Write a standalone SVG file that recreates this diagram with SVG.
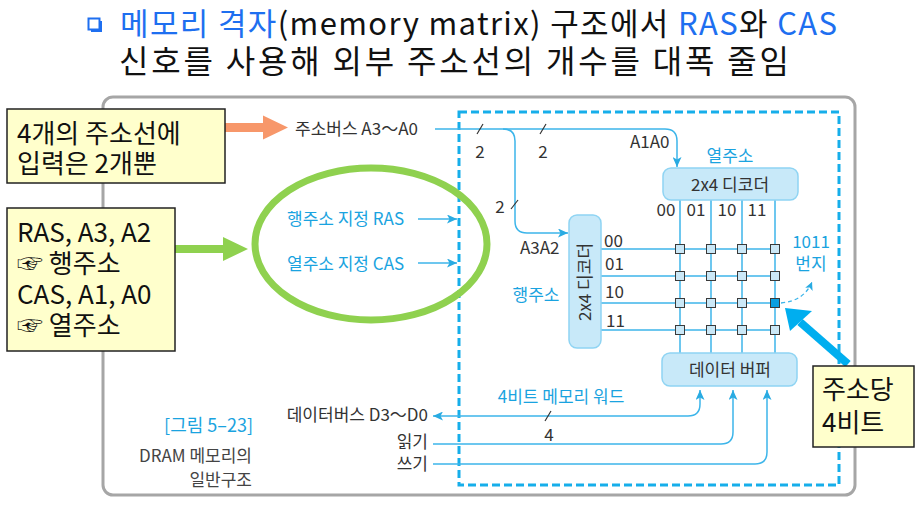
<svg xmlns="http://www.w3.org/2000/svg" width="923" height="522" viewBox="0 0 923 522">
<defs>
<style>
text{font-family:"Noto Sans CJK KR","Noto Sans",sans-serif;}
.t{font-size:17px;fill:#333;}
.tb{font-size:17px;fill:#1aa3e0;}
.big{font-size:26px;fill:#111;}
.ttl{font-size:31px;fill:#111;}
.blue{fill:#1e6ff0;}
.ln{fill:none;stroke:#3cb5ea;stroke-width:1.5;}
.arr{fill:none;stroke:#3cb5ea;stroke-width:1.5;marker-end:url(#ah);}
.dec{fill:#c8e9f9;stroke:#8fd4f3;stroke-width:1.5;}
.cell{fill:#cbe8f7;stroke:#3a3a3a;stroke-width:1;}
.yel{fill:#ffffcc;stroke:#222;stroke-width:1.5;}
.sl{stroke:#333;stroke-width:1.2;}
</style>
<marker id="ah" markerUnits="userSpaceOnUse" markerWidth="11" markerHeight="9" refX="10" refY="4.5" orient="auto-start-reverse">
<path d="M0,0 L10,4.5 L0,9 L2.5,4.5 z" fill="#29abe2"/>
</marker>
<marker id="ahs" markerUnits="userSpaceOnUse" markerWidth="9" markerHeight="8" refX="8" refY="4" orient="auto">
<path d="M0,0 L8,4 L0,8 L2,4 z" fill="#29abe2"/>
</marker>
</defs>
<rect width="923" height="522" fill="#fff"/>

<g id="title">
<rect x="91" y="21" width="11" height="11" fill="#1e6ff0"/>
<rect x="88.5" y="18.5" width="11" height="11" fill="#fff" stroke="#1e6ff0" stroke-width="2"/>
<text class="ttl" x="120" y="35" textLength="717" lengthAdjust="spacing"><tspan class="blue">메모리 격자</tspan>(memory matrix) 구조에서 <tspan class="blue">RAS</tspan>와 <tspan class="blue">CAS</tspan></text>
<text class="ttl" x="119" y="73" textLength="670" lengthAdjust="spacing" style="font-size:32px">신호를 사용해 외부 주소선의 개수를 대폭 줄임</text>
</g>

<g id="frame">
<rect x="103" y="97" width="752" height="398" rx="10" fill="#fff" stroke="#a6a6a6" stroke-width="3"/>
<rect x="459" y="112" width="380" height="373" fill="none" stroke="#16aeea" stroke-width="3" stroke-dasharray="8,4"/>
</g>

<g id="ellipse">
<ellipse cx="371" cy="244" rx="116" ry="76" fill="none" stroke="#8fd14f" stroke-width="7"/>
</g>

<g id="connectors">
<path class="arr" d="M435,129 H665 Q677,129 677,141 V167"/>
<path class="arr" d="M503,129 Q515,129 515,141 V221 Q515,233 527,233 H568"/>
<line class="sl" x1="477" y1="134" x2="483" y2="124"/>
<line class="sl" x1="540" y1="134" x2="546" y2="124"/>
<line class="sl" x1="511" y1="209" x2="518" y2="200"/>
<line class="arr" x1="418" y1="219" x2="457" y2="219"/>
<line class="arr" x1="418" y1="263" x2="457" y2="263"/>
<line class="ln" x1="601" y1="249" x2="775" y2="249"/>
<line class="ln" x1="601" y1="276" x2="775" y2="276"/>
<line class="ln" x1="601" y1="303" x2="775" y2="303"/>
<line class="ln" x1="601" y1="330" x2="775" y2="330"/>
<line class="ln" x1="680" y1="200" x2="680" y2="353"/>
<line class="ln" x1="711" y1="200" x2="711" y2="353"/>
<line class="ln" x1="742" y1="200" x2="742" y2="353"/>
<line class="ln" x1="775" y1="200" x2="775" y2="353"/>
<path class="arr" style="marker-start:url(#ah)" d="M433,416 H688 Q700,416 700,404 V390"/>
<line class="sl" x1="545" y1="421" x2="551" y2="411"/>
<path class="arr" d="M433,444 H721 Q733,444 733,432 V390"/>
<path class="arr" d="M433,464 H755 Q767,464 767,452 V390"/>
<path d="M781,303 Q804,301 812,282" fill="none" stroke="#3cb5ea" stroke-width="1.3" stroke-dasharray="4,3" marker-end="url(#ahs)"/>
<line x1="848" y1="364" x2="800" y2="322" stroke="#00aeef" stroke-width="8"/>
<polygon points="785,308 812,311 790,331" fill="#00aeef"/>
<polygon points="225,123 263,123 263,115.5 288,127.5 263,139.5 263,132 225,132" fill="#f7976a"/>
<polygon points="175,245 223,245 223,237 248,249 223,261 223,253 175,253" fill="#8fd14f"/>
</g>

<g id="cells">
<rect class="cell" x="675.5" y="244.5" width="9" height="9"/>
<rect class="cell" x="706.5" y="244.5" width="9" height="9"/>
<rect class="cell" x="737.5" y="244.5" width="9" height="9"/>
<rect class="cell" x="770.5" y="244.5" width="9" height="9"/>
<rect class="cell" x="675.5" y="271.5" width="9" height="9"/>
<rect class="cell" x="706.5" y="271.5" width="9" height="9"/>
<rect class="cell" x="737.5" y="271.5" width="9" height="9"/>
<rect class="cell" x="770.5" y="271.5" width="9" height="9"/>
<rect class="cell" x="675.5" y="298.5" width="9" height="9"/>
<rect class="cell" x="706.5" y="298.5" width="9" height="9"/>
<rect class="cell" x="737.5" y="298.5" width="9" height="9"/>
<rect class="cell" x="770.5" y="298.5" width="9" height="9" style="fill:#0a9fe0"/>
<rect class="cell" x="675.5" y="325.5" width="9" height="9"/>
<rect class="cell" x="706.5" y="325.5" width="9" height="9"/>
<rect class="cell" x="737.5" y="325.5" width="9" height="9"/>
<rect class="cell" x="770.5" y="325.5" width="9" height="9"/>
</g>

<g id="col-decoder">
<rect class="dec" x="663" y="168" width="135" height="32" rx="8"/>
<text class="t" x="730" y="191" text-anchor="middle">2x4 디코더</text>
<text class="tb" x="730" y="162" text-anchor="middle">열주소</text>
<text class="t" x="666" y="216" text-anchor="middle">00</text>
<text class="t" x="696" y="216" text-anchor="middle">01</text>
<text class="t" x="727" y="216" text-anchor="middle">10</text>
<text class="t" x="757" y="216" text-anchor="middle">11</text>
</g>

<g id="row-decoder">
<rect class="dec" x="569" y="215" width="32" height="133" rx="8"/>
<text class="t" x="0" y="0" text-anchor="middle" transform="translate(591,282) rotate(-90)">2x4 디코더</text>
<text class="tb" x="536" y="301" text-anchor="middle">행주소</text>
<text class="t" x="604" y="247">00</text>
<text class="t" x="605" y="270">01</text>
<text class="t" x="605" y="298">10</text>
<text class="t" x="606" y="327">11</text>
</g>

<g id="data-buffer">
<rect class="dec" x="662" y="353" width="135" height="33" rx="8"/>
<text class="t" x="730" y="376" text-anchor="middle">데이터 버퍼</text>
</g>

<g id="labels">
<text class="t" x="295" y="135">주소버스 A3～A0</text>
<text class="t" x="480" y="158" text-anchor="middle">2</text>
<text class="t" x="543" y="158" text-anchor="middle">2</text>
<text class="t" x="500" y="213" text-anchor="middle">2</text>
<text class="t" x="630" y="148">A1A0</text>
<text class="t" x="520" y="254">A3A2</text>
<text class="tb" x="287" y="225">행주소 지정 RAS</text>
<text class="tb" x="287" y="270">열주소 지정 CAS</text>
<text class="tb" x="811" y="248" text-anchor="middle">1011</text>
<text class="tb" x="811" y="270" text-anchor="middle">번지</text>
<text class="tb" x="561" y="403" text-anchor="middle">4비트 메모리 워드</text>
<text class="t" x="549" y="441" text-anchor="middle">4</text>
<text class="t" x="428" y="421" text-anchor="end">데이터버스 D3～D0</text>
<text class="t" x="428" y="448" text-anchor="end">읽기</text>
<text class="t" x="428" y="470" text-anchor="end">쓰기</text>
<text class="tb" x="253" y="432" text-anchor="end" style="font-size:18px">[그림 5–23]</text>
<text class="t" x="252" y="462" text-anchor="end" style="fill:#444">DRAM 메모리의</text>
<text class="t" x="252" y="486" text-anchor="end" style="fill:#444">일반구조</text>
</g>

<g id="note-address-lines">
<rect class="yel" x="7" y="109" width="218" height="74"/>
<text class="big" x="17" y="143">4개의 주소선에</text>
<text class="big" x="17" y="173">입력은 2개뿐</text>
</g>

<g id="note-ras-cas">
<rect class="yel" x="7" y="208" width="168" height="143"/>
<text class="big" x="17" y="242">RAS, A3, A2</text>
<text class="big" x="17" y="273">☞ 행주소</text>
<text class="big" x="17" y="304">CAS, A1, A0</text>
<text class="big" x="17" y="335">☞ 열주소</text>
</g>

<g id="note-4bit">
<rect class="yel" x="813" y="366" width="101" height="81"/>
<text class="big" x="822" y="399">주소당</text>
<text class="big" x="822" y="432">4비트</text>
</g>
</svg>
